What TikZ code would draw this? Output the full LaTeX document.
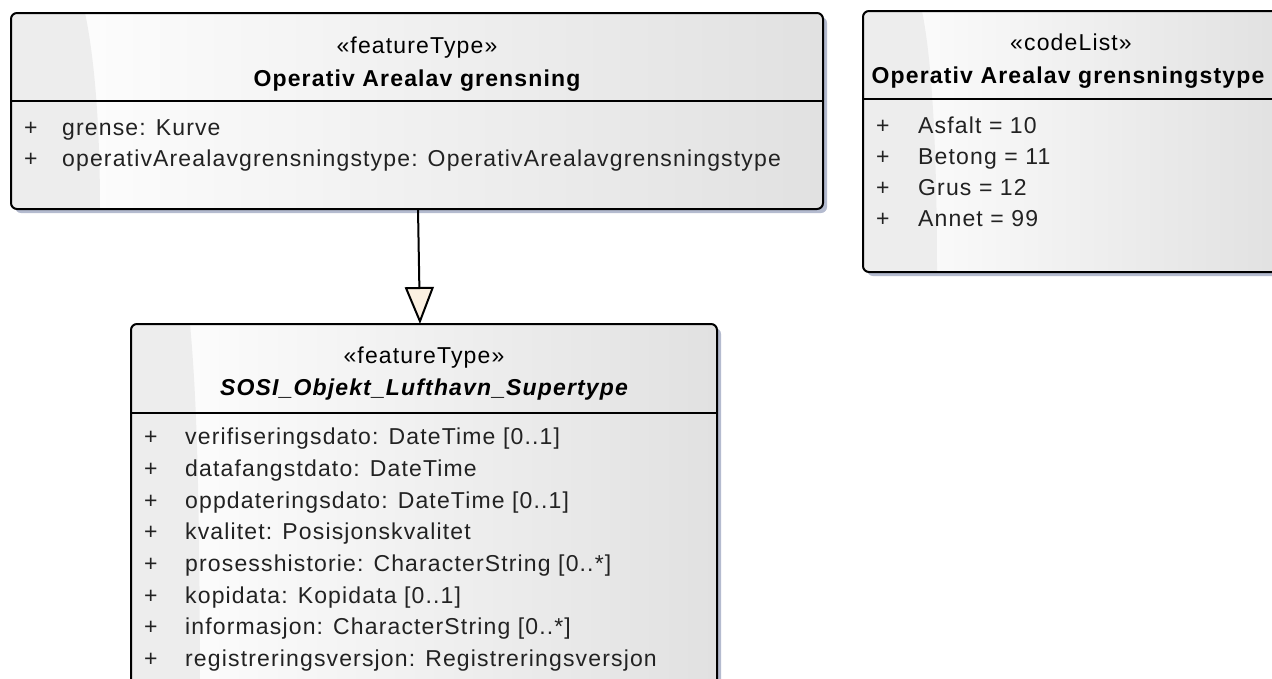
\documentclass[tikz,border=0pt]{standalone}
\usepackage{fontspec}
\setmainfont{Liberation Sans}
\newfontfamily\umlfont{Liberation Sans}[LetterSpace=5]
\usetikzlibrary{arrows.meta,shadows}
\definecolor{shadowc}{HTML}{B4BBCF}
\definecolor{arrowfill}{HTML}{FBF0E1}
\definecolor{sheenc}{HTML}{EDEDED}
\definecolor{edgec}{HTML}{E1E1E1}
\definecolor{attrc}{HTML}{222222}
\tikzset{
  umlbox/.style={left color=white, right color=edgec, draw=none,
    drop shadow={shadow xshift=4pt, shadow yshift=-4pt, fill=shadowc, opacity=1},
    rounded corners=6pt, inner sep=0pt, outer sep=0pt, anchor=north west},
  boxline/.style={draw=black, line width=2pt, rounded corners=6pt},
  sepline/.style={draw=black, line width=1.6pt},
  sheen/.style={fill=sheenc},
  stereo/.style={inner sep=0pt, anchor=base, font=\umlfont\fontsize{23}{28}\selectfont, text=black},
  title/.style={inner sep=0pt, anchor=base, font=\umlfont\fontsize{23}{28}\selectfont\bfseries, text=black},
  attr/.style={inner sep=0pt, anchor=base west, font=\umlfont\fontsize{23}{28}\selectfont, text=attrc},
  genline/.style={draw=black, line width=2pt, -{Triangle[length=37pt, width=29pt, fill=arrowfill]}}
}
\begin{document}
\begin{tikzpicture}[x=1pt,y=-1pt]
\path[use as bounding box] (0,0) rectangle (1272,678);
\clip (0,0) rectangle (1272,678);

% ---------- box 1 ----------
\node[umlbox, minimum width=812pt, minimum height=196pt] (b1) at (11,13) {};
\begin{scope}
  \clip[rounded corners=6pt] (b1.north west) rectangle (b1.south east);
  \fill[sheen] (b1.north west) -- (85,13) .. controls (95,60) and (100,130) .. (100,209) -- (b1.south west) -- cycle;
\end{scope}
\draw[boxline] (b1.north west) rectangle (b1.south east);
\draw[sepline] (11,101) -- (823,101);
\node[stereo] (b1s) at (417,53) {«featureType»};
\node[title] (b1t) at (417,86) {Operativ Arealav grensning};
\node[attr] (b1p1) at (24,135) {+};
\node[attr] (b1a1) at (62,135) {grense: Kurve};
\node[attr] (b1p2) at (24,166) {+};
\node[attr] (b1a2) at (62,166) {operativArealavgrensningstype: OperativArealavgrensningstype};

% ---------- box 2 ----------
\node[umlbox, minimum width=420pt, minimum height=261pt] (b2) at (863,11) {};
\begin{scope}
  \clip[rounded corners=6pt] (b2.north west) rectangle (b2.south east);
  \fill[sheen] (b2.north west) -- (922,11) .. controls (932,60) and (937,150) .. (937,272) -- (b2.south west) -- cycle;
\end{scope}
\draw[boxline] (b2.north west) rectangle (b2.south east);
\draw[sepline] (863,99) -- (1283,99);
\node[stereo] (b2s) at (1071,50) {«codeList»};
\node[title] (b2t) at (1068,83) {Operativ Arealav grensningstype};
\node[attr] (b2p1) at (876,133) {+};
\node[attr] (b2a1) at (918,133) {Asfalt = 10};
\node[attr] (b2p2) at (876,164) {+};
\node[attr] (b2a2) at (918,164) {Betong = 11};
\node[attr] (b2p3) at (876,195) {+};
\node[attr] (b2a3) at (918,195) {Grus = 12};
\node[attr] (b2p4) at (876,226) {+};
\node[attr] (b2a4) at (918,226) {Annet = 99};

% ---------- box 3 ----------
\node[umlbox, minimum width=586pt, minimum height=400pt] (b3) at (131,324) {};
\begin{scope}
  \clip[rounded corners=6pt] (b3.north west) rectangle (b3.south east);
  \fill[sheen] (b3.north west) -- (190,324) .. controls (197,400) and (200,500) .. (200,724) -- (b3.south west) -- cycle;
\end{scope}
\draw[boxline] (b3.north west) rectangle (b3.south east);
\draw[sepline] (131,413) -- (717,413);
\node[stereo] (b3s) at (424,363) {«featureType»};
\node[title, font=\umlfont\fontsize{23}{28}\selectfont\bfseries\itshape] (b3t) at (424,395) {SOSI\_Objekt\_Lufthavn\_Supertype};
\foreach \t [count=\i] in {
  verifiseringsdato: DateTime [0..1],
  datafangstdato: DateTime,
  oppdateringsdato: DateTime [0..1],
  kvalitet: Posisjonskvalitet,
  prosesshistorie: CharacterString [0..*],
  kopidata: Kopidata [0..1],
  informasjon: CharacterString [0..*],
  registreringsversjon: Registreringsversjon} {
  \node[attr] (b3p\i) at (144,{413+31.7*\i}) {+};
  \node[attr] (b3a\i) at (185,{413+31.7*\i}) {\t};
}

% ---------- generalization ----------
\coordinate (gs) at (b1.south -| 418,0);
\coordinate (ge) at (b3.north -| 420,0);
\draw[genline] (gs) -- (ge);
\end{tikzpicture}
\end{document}
